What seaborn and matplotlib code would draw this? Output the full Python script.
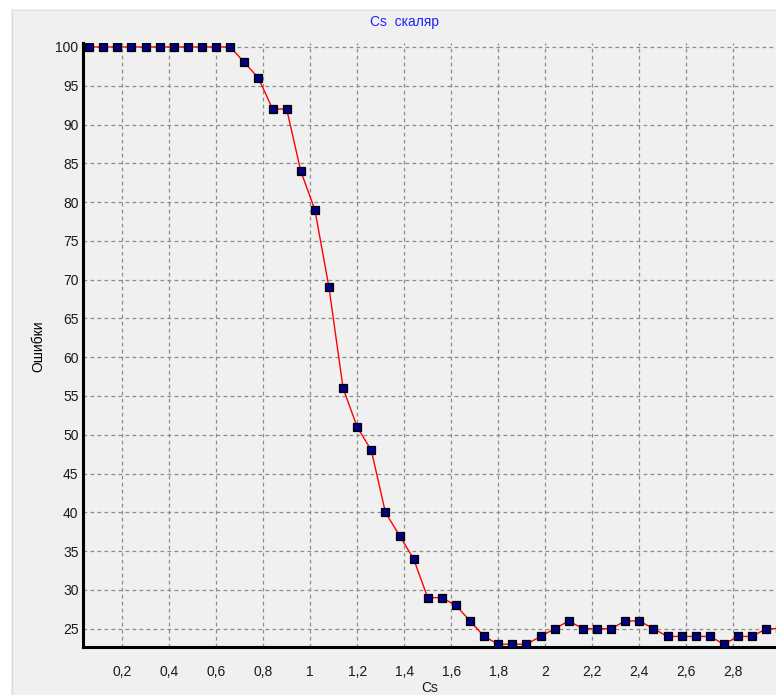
import matplotlib
matplotlib.use("Agg")
import matplotlib.pyplot as plt
import matplotlib.patches as mpatches
import seaborn as sns
import pandas as pd
from matplotlib.ticker import FixedLocator, FuncFormatter

# ---- data ----
cs_values = [round(0.06 * k, 2) for k in range(1, 51)]
errors = [100, 100, 100, 100, 100, 100, 100, 100, 100, 100, 100,
          98, 96, 92, 92, 84, 79, 69, 56, 51, 48, 40, 37, 34, 29, 29,
          28, 26, 24, 23, 23, 23, 24, 25, 26, 25, 25, 25, 26, 26, 25,
          24, 24, 24, 24, 23, 24, 24, 25, 25]
x_ticks = [0.2, 0.4, 0.6, 0.8, 1.0, 1.2, 1.4, 1.6, 1.8, 2.0, 2.2, 2.4, 2.6, 2.8, 3.0]
y_ticks = [25, 30, 35, 40, 45, 50, 55, 60, 65, 70, 75, 80, 85, 90, 95, 100]
title_text = "Cs  скаляр"
x_label = "Cs"
y_label = "Ошибки"

df = pd.DataFrame({"Cs": cs_values, "Err": errors})

sns.set_style("white")
plt.rcParams['font.family'] = ['Liberation Sans', 'DejaVu Sans']

W, H = 776, 695
fig = plt.figure(figsize=(W / 100, H / 100), dpi=100, facecolor='#F0F0F0')

# window frame look (white strip on top/left)
fig.patches.append(mpatches.Rectangle((0, 1 - 9 / H), 1, 9 / H, transform=fig.transFigure,
                                      facecolor='white', edgecolor='none', zorder=0))
fig.patches.append(mpatches.Rectangle((0, 0), 11 / W, 1, transform=fig.transFigure,
                                      facecolor='white', edgecolor='none', zorder=0))
fig.lines.append(plt.Line2D([11.5 / W, 11.5 / W], [0, 1 - 9 / H], transform=fig.transFigure,
                            color='#D8D8D8', lw=0.8))
fig.lines.append(plt.Line2D([11.5 / W, 1], [1 - 9.5 / H, 1 - 9.5 / H], transform=fig.transFigure,
                            color='#E4E4E4', lw=0.8))

x0, x1 = 0.035, 3.05
y0, y1 = 22.6, 100.55
left_px, bottom_px, top_px = 83.3, 647.3, 42.7
px_per_x = 235.1
ax_w = (x1 - x0) * px_per_x / W
ax = fig.add_axes([left_px / W, (H - bottom_px) / H, ax_w, (bottom_px - top_px) / H])
ax.set_facecolor('#F0F0F0')

sns.lineplot(data=df, x="Cs", y="Err", ax=ax, color='#FF0000', linewidth=1.0,
             marker='s', markersize=5.6, markerfacecolor='#000080',
             markeredgecolor='black', markeredgewidth=0.9, zorder=3)

ax.set_xlim(x0, x1)
ax.set_ylim(y0, y1)
ax.xaxis.set_major_locator(FixedLocator(x_ticks))
ax.yaxis.set_major_locator(FixedLocator(y_ticks))

def fmt(v, pos):
    s = ('%g' % round(v, 2))
    return s.replace('.', ',')

ax.xaxis.set_major_formatter(FuncFormatter(fmt))
ax.yaxis.set_major_formatter(FuncFormatter(fmt))

ax.grid(True, color='#8C8C8C', linestyle=(0, (3, 2.6)), linewidth=0.9, zorder=1)
ax.set_axisbelow(True)

for s in ['top', 'right']:
    ax.spines[s].set_visible(False)
for s in ['left', 'bottom']:
    ax.spines[s].set_color('black')
    ax.spines[s].set_linewidth(2.2)

ax.tick_params(axis='x', length=0, pad=13, labelsize=10, colors='#1A1A1A')
ax.tick_params(axis='y', length=0, pad=3.5, labelsize=10, colors='#1A1A1A')
for lab in ax.get_xticklabels() + ax.get_yticklabels():
    lab.set_clip_on(False)

ax.set_xlabel("")
ax.set_ylabel("")

fig.text(404 / W, 1 - 22 / H, title_text, color='#2020FF', fontsize=10,
         ha='center', va='center')
fig.text(38 / W, 1 - 346 / H, y_label, color='black', fontsize=10,
         rotation=90, ha='center', va='center')
fig.text(430 / W, 14 / H, x_label, color='#1A1A1A', fontsize=10,
         ha='center', va='top')

fig.savefig("out.png", dpi=100, facecolor=fig.get_facecolor())
